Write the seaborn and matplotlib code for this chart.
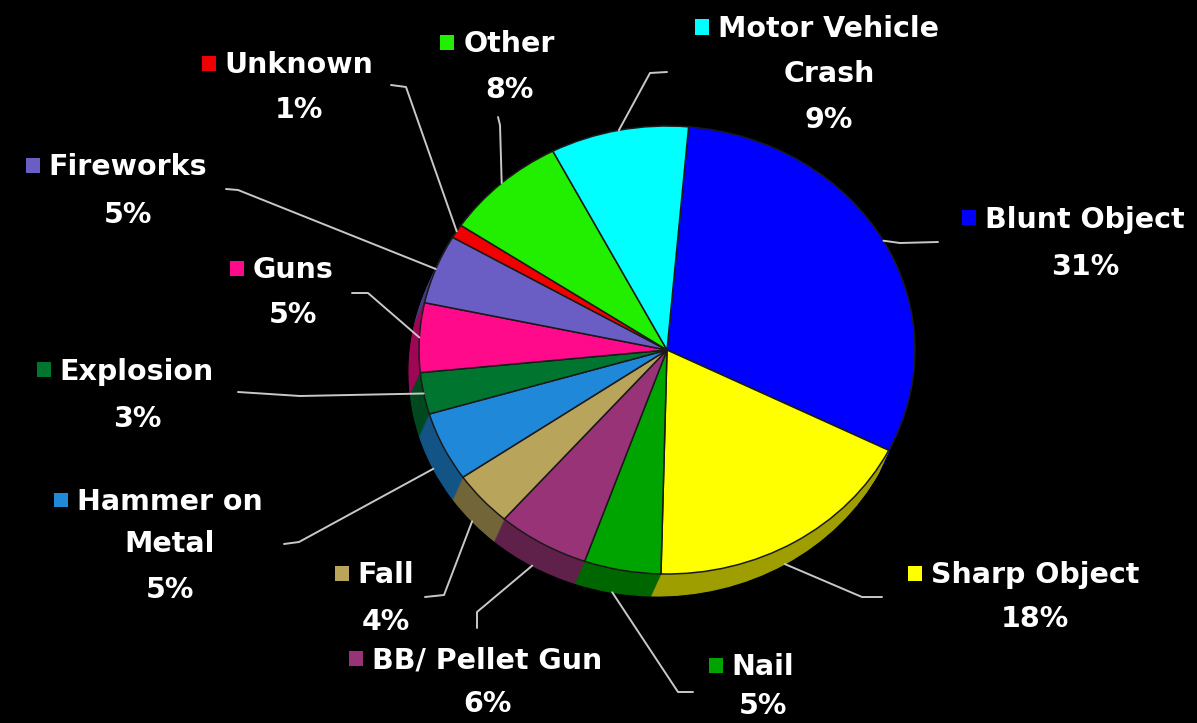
import numpy as np
import matplotlib
matplotlib.use("Agg")
import matplotlib.pyplot as plt
import seaborn as sns
from matplotlib.patches import Rectangle
from matplotlib.colors import to_rgb

# ---------------- data ----------------
categories = ["Blunt Object", "Sharp Object", "Nail", "BB/ Pellet Gun", "Fall",
              "Hammer on\nMetal", "Explosion", "Guns", "Fireworks", "Unknown",
              "Other", "Motor Vehicle\nCrash"]
percent = [31, 18, 5, 6, 4, 5, 3, 5, 5, 1, 8, 9]
slice_colors = ["#0000FF", "#FFFF00", "#00A400", "#993377", "#B8A45A",
                "#1F88D8", "#007530", "#FF0A8A", "#6A5EC4", "#F00000",
                "#22EE00", "#00FFFF"]

# ---------------- style ----------------
sns.set_theme(style="dark", rc={"axes.facecolor": "black",
                                "figure.facecolor": "black"})
plt.rcParams["font.family"] = ["DejaVu Sans"]
palette = sns.color_palette(slice_colors)
dark_palette = [tuple(c * 0.62 for c in to_rgb(col)) for col in palette]

W, H = 1197, 723
fig = plt.figure(figsize=(W / 100, H / 100), dpi=100)
fig.patch.set_facecolor("black")
ax = fig.add_axes([0, 0, 1, 1])

# ellipse geometry of the pie in pixel space
CX, CY, RX, RY = 667, 350, 248, 224
DEPTH_X, DEPTH_Y = -10 / RX, -22 / RY


def P(px, py):
    return ((px - CX) / RX, (CY - py) / RY)


START = 85
# extruded side of the 3-D pie
n_layers = 22
for k in range(n_layers, 0, -1):
    f = k / n_layers
    side, _ = ax.pie(percent, colors=dark_palette, startangle=START,
                     counterclock=False, radius=1,
                     center=(DEPTH_X * f, DEPTH_Y * f),
                     wedgeprops=dict(linewidth=0.8), frame=False)
    for s in side:
        s.set_edgecolor(s.get_facecolor())
# top face
wedges, _ = ax.pie(percent, colors=palette, startangle=START,
                   counterclock=False, radius=1, center=(0, 0),
                   wedgeprops=dict(linewidth=1.1, edgecolor="#1a1a1a"),
                   frame=False)
for w in wedges:
    w.set_zorder(5)

ax.set_aspect("auto")
ax.set_xlim(P(0, 0)[0], P(W, 0)[0])
ax.set_ylim(P(0, H)[1], P(0, 0)[1])
ax.axis("off")

# ---------------- labels layout (pixel positions) ----------------
label_cx = [1085, 1035, 763, 487, 386, 170, 137, 293, 128, 299, 509, 829]
label_ys = [[218, 265], [573, 617], [665, 704], [658, 702], [573, 620],
            [500, 542, 588], [370, 417], [268, 313], [165, 213], [63, 108],
            [42, 88], [27, 72, 118]]
leader_pts = [
    [(900, 243), (938, 242)],
    [(862, 597), (882, 597)],
    [(678, 692), (693, 692)],
    [(477, 612), (477, 628)],
    [(444, 595), (425, 597)],
    [(299, 542), (284, 544)],
    [(300, 396), (238, 392)],
    [(368, 293), (352, 293)],
    [(238, 190), (226, 189)],
    [(406, 87), (391, 85)],
    [(500, 125), (498, 117)],
    [(650, 73), (667, 72)],
]

# leader lines start at the rim at each wedge's mid angle
for i, w in enumerate(wedges):
    mid = np.deg2rad((w.theta1 + w.theta2) / 2)
    x0, y0 = np.cos(mid), np.sin(mid)
    if y0 < -0.3:
        x0 += DEPTH_X
        y0 += DEPTH_Y
    pts = [(x0, y0)] + [P(*p) for p in leader_pts[i]]
    xs, ys = zip(*pts)
    ax.plot(xs, ys, color="#c8c8c8", lw=1.4, zorder=6,
            solid_capstyle="round")

FS = 20.5
cap_px = FS * 100 / 72 * 0.729
first_texts = []
for i, name in enumerate(categories):
    lines = name.split("\n") + [f"{percent[i]}%"]
    for j, line in enumerate(lines):
        yb = label_ys[i][j] + cap_px / 2
        t = ax.text(*P(label_cx[i], yb), line, ha="center", va="baseline",
                    color="white", fontsize=FS, fontweight="bold", zorder=7)
        if j == 0:
            first_texts.append(t)

fig.canvas.draw()
renderer = fig.canvas.get_renderer()
inv = ax.transData.inverted()
SQ_W, SQ_H, GAP = 14, 15, 9
for i, t in enumerate(first_texts):
    bb = t.get_window_extent(renderer)
    left_px = bb.x0
    cy_disp = H - label_ys[i][0]
    x1, y1 = inv.transform((left_px - GAP - SQ_W, cy_disp - SQ_H / 2))
    x2, y2 = inv.transform((left_px - GAP, cy_disp + SQ_H / 2))
    ax.add_patch(Rectangle((x1, y1), x2 - x1, y2 - y1,
                           facecolor=palette[i], edgecolor="none", zorder=7))

fig.savefig("out.png", dpi=100, facecolor="black")
